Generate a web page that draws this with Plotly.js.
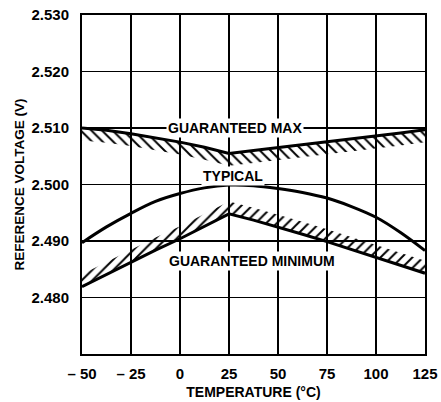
<!DOCTYPE html>
<html>
<head>
<meta charset="utf-8">
<script src="https://cdn.plot.ly/plotly-3.0.1.min.js"></script>
<style>html,body{margin:0;padding:0;background:#fff;}#chart{width:441px;height:402px;}</style>
</head>
<body>
<div id="chart"></div>
<script>
// Temperature (°C)
const temps = [-50, -37.5, -25, -12.5, 0, 12.5, 25, 37.5, 50, 62.5, 75, 87.5, 100, 112.5, 125];
// Reference voltage (V)
const guaranteedMax = [2.5100, 2.5096, 2.5090, 2.5083, 2.5075, 2.5066, 2.5055, 2.5060, 2.5065, 2.5070, 2.5076, 2.5081, 2.5086, 2.5091, 2.5097];
const typical       = [2.4897, 2.4925, 2.4949, 2.4970, 2.4984, 2.4994, 2.4999, 2.4998, 2.4993, 2.4986, 2.4976, 2.4961, 2.4942, 2.4915, 2.4883];
const guaranteedMin = [2.4819, 2.4841, 2.4862, 2.4884, 2.4904, 2.4926, 2.4948, 2.4937, 2.4925, 2.4912, 2.4899, 2.4885, 2.4870, 2.4857, 2.4843];

const xTickVals = [-50, -25, 0, 25, 50, 75, 100, 125];
const xTickText = ['\u2013 50', '\u2013 25', '0', '25', '50', '75', '100', '125'];
const yTickVals = [2.480, 2.490, 2.500, 2.510, 2.520, 2.530];
const yTickText = ['2.480', '2.490', '2.500', '2.510', '2.520', '2.530'];

const labels = [
  {text: 'GUARANTEED MAX', x: 28, y: 2.5100},
  {text: 'TYPICAL', x: 27, y: 2.5015},
  {text: 'GUARANTEED MINIMUM', x: 36.5, y: 2.4864}
];

const HATCH = 0.0022; // visual depth of the hatched band (V)
const FONT = 'Liberation Sans, Arial, Helvetica, sans-serif';

const traces = [
  // hatched band under the guaranteed max line
  {x: temps, y: guaranteedMax.map(v => v - HATCH), mode: 'lines', line: {width: 0, color: 'rgba(0,0,0,0)'}, hoverinfo: 'skip', showlegend: false},
  {x: temps, y: guaranteedMax, mode: 'lines', fill: 'tonexty', fillcolor: 'rgba(0,0,0,0)',
   fillpattern: {shape: '\\', size: 7.5, solidity: 0.26, fgcolor: '#000', bgcolor: 'rgba(0,0,0,0)'},
   line: {color: '#000', width: 3}, showlegend: false},
  // hatched band above the guaranteed minimum line
  {x: temps, y: guaranteedMin.map(v => v + HATCH), mode: 'lines', line: {width: 0, color: 'rgba(0,0,0,0)'}, hoverinfo: 'skip', showlegend: false},
  {x: temps, y: guaranteedMin, mode: 'lines', fill: 'tonexty', fillcolor: 'rgba(0,0,0,0)',
   fillpattern: {shape: '/', size: 7.5, solidity: 0.26, fgcolor: '#000', bgcolor: 'rgba(0,0,0,0)'},
   line: {color: '#000', width: 3}, showlegend: false},
  // typical
  {x: temps, y: typical, mode: 'lines', line: {color: '#000', width: 3, shape: 'spline'}, showlegend: false}
];

const layout = {
  width: 441, height: 402,
  margin: {l: 82, r: 16, t: 15, b: 48},
  paper_bgcolor: '#fff', plot_bgcolor: '#fff',
  font: {family: FONT, size: 15, color: '#000', weight: 'bold'},
  showlegend: false,
  xaxis: {
    range: [-50, 125], tickvals: xTickVals, ticktext: xTickText,
    showgrid: true, gridcolor: '#000', gridwidth: 1.3, zeroline: false,
    showline: true, linecolor: '#000', linewidth: 2, mirror: true,
    ticks: '', ticklabelstandoff: 5,
    tickfont: {family: FONT, size: 15, color: '#000', weight: 'bold'},
    title: {text: 'TEMPERATURE (\u00B0C)', font: {family: FONT, size: 14, color: '#000', weight: 'bold'}, standoff: 6}
  },
  yaxis: {
    range: [2.470, 2.530], tickvals: yTickVals, ticktext: yTickText,
    showgrid: true, gridcolor: '#000', gridwidth: 1.3, zeroline: false,
    showline: true, linecolor: '#000', linewidth: 2, mirror: true,
    ticks: '', ticklabelstandoff: 8,
    tickfont: {family: FONT, size: 15, color: '#000', weight: 'bold'},
    title: {text: 'REFERENCE VOLTAGE (V)', font: {family: FONT, size: 13.5, color: '#000', weight: 'bold'}, standoff: 4}
  },
  annotations: labels.map(l => ({
    text: l.text, x: l.x, y: l.y, xref: 'x', yref: 'y', showarrow: false,
    font: {family: FONT, size: 14, color: '#000', weight: 'bold'},
    bgcolor: '#fff', borderpad: 1
  }))
};

Plotly.newPlot('chart', traces, layout, {displayModeBar: false, staticPlot: true});
</script>
</body>
</html>
